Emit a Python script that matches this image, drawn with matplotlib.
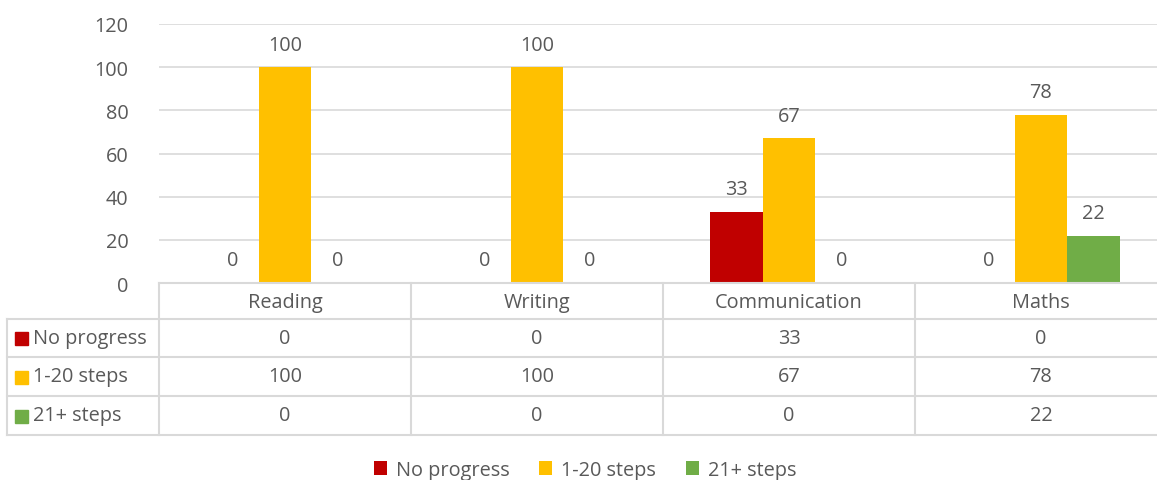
import matplotlib.pyplot as plt
import numpy as np
from matplotlib.patches import Patch

plt.rcParams['font.family'] = ['Open Sans', 'DejaVu Sans']

categories = ['Reading', 'Writing', 'Communication', 'Maths']
series = ['No progress', '1-20 steps', '21+ steps']
no_progress = [0, 0, 33, 0]
steps_1_20 = [100, 100, 67, 78]
steps_21 = [0, 0, 0, 22]
colors = ['#c00000', '#ffc000', '#70ad47']
yticks = [0, 20, 40, 60, 80, 100, 120]

W, H = 1157, 481
txt = '#595959'
grid = '#d9d9d9'
fs = 14.3

fig = plt.figure(figsize=(W / 100, H / 100), dpi=100)

# plot area in pixels
x0, x1 = 159, 1167
y_top, y_base = 25, 284
ax = fig.add_axes([x0 / W, 1 - y_base / H, (x1 - x0) / W, (y_base - y_top) / H])
ax.set_xlim(-0.5, 3.5)
ax.set_ylim(0, 120)
ax.set_yticks(yticks)
ax.set_yticklabels([str(t) for t in yticks], color=txt, fontsize=fs)
ax.tick_params(axis='y', length=0, pad=22)
ax.set_xticks([])
for s in ax.spines.values():
    s.set_visible(False)
ax.grid(axis='y', color=grid, lw=1.2)
ax.set_axisbelow(True)

x = np.arange(len(categories))
bw = 0.208
data = [no_progress, steps_1_20, steps_21]
for i, (vals, c) in enumerate(zip(data, colors)):
    xs = x + (i - 1) * bw
    ax.bar(xs, vals, width=bw, color=c, zorder=3)
    for xx, v in zip(xs, vals):
        ax.annotate(str(v), (xx, v), xytext=(0, 9), textcoords='offset points',
                    ha='center', va='bottom', fontsize=fs, color=txt)

# data table
row_px = [284, 320, 358, 397, 436]
left_px = 7
axt = fig.add_axes([0, 0, 1, 1])
axt.set_xlim(0, W)
axt.set_ylim(H, 0)
axt.axis('off')

cw = (x1 - x0) / 4
cx = lambda c: x0 + (c + 0.5) * cw
# horizontal lines
axt.plot([x0, W], [row_px[0]] * 2, color=grid, lw=1.5)
for r in row_px[1:]:
    axt.plot([left_px, W], [r, r], color=grid, lw=1.5)
# vertical lines
axt.plot([left_px, left_px], [row_px[1], row_px[-1]], color=grid, lw=1.5)
for k in range(4):
    xv = x0 + k * cw
    axt.plot([xv, xv], [row_px[0], row_px[-1]], color=grid, lw=1.5)

for k, cat in enumerate(categories):
    axt.text(cx(k), (row_px[0] + row_px[1]) / 2 + 1, cat, ha='center', va='center',
             fontsize=fs, color=txt)
for j, (name, vals, c) in enumerate(zip(series, data, colors)):
    yc = (row_px[j + 1] + row_px[j + 2]) / 2
    axt.add_patch(plt.Rectangle((15, yc - 6), 13, 13, color=c))
    axt.text(33, yc, name, ha='left', va='center', fontsize=fs, color=txt)
    for k, v in enumerate(vals):
        axt.text(cx(k), yc, str(v), ha='center', va='center', fontsize=fs, color=txt)

handles = [Patch(facecolor=c, edgecolor='none') for c in colors]
fig.legend(handles, series, loc='center', bbox_to_anchor=(585 / W, 1 - 471 / H),
           ncol=3, frameon=False, fontsize=fs, labelcolor=txt,
           handlelength=0.65, handleheight=0.65, handletextpad=0.45, columnspacing=1.5)

fig.savefig('out.png', dpi=100)
